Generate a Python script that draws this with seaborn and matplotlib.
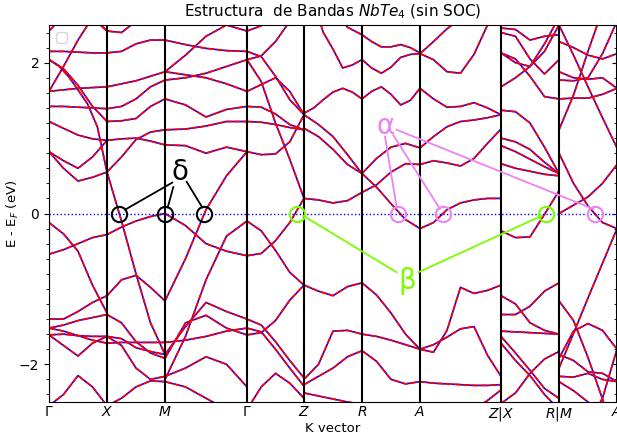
import numpy as np
import pandas as pd
import matplotlib
matplotlib.use("Agg")
import matplotlib.pyplot as plt
from matplotlib.ticker import MultipleLocator
import seaborn as sns

# ---------------- data ----------------
# k-path positions of the high-symmetry points (path length units)
k_points = [0, 58, 116, 198, 255, 313, 371, 452, 510, 568]
k_labels = [r'$\Gamma$', r'$X$', r'$M$', r'$\Gamma$', r'$Z$', r'$R$', r'$A$', r'$Z|X$', r'$R|M$', r'$A$']

# band energies (eV) sampled evenly along each path segment
seg_GX = [
    [2.42, 2.62, 2.75, 2.6, 2.42],
    [2.15, 2.15, 2.14, 2.13, 2.13],
    [2.04, 1.96, 1.82, 1.64, 1.45, 1.15, 0.55],
    [2.04, 1.92, 1.7, 1.42, 1.22],
    [1.62, 1.95, 2.3, 2.6, 2.42],
    [1.62, 1.64, 1.66, 1.67, 1.68],
    [1.42, 1.42, 1.41, 1.40, 1.39],
    [1.22, 1.13, 1.04, 0.99, 0.97],
    [0.82, 0.6, 0.43, 0.48, 0.55],
    [0.82, 0.7, 0.6, 0.75, 0.97],
    [-0.12, -0.27, -0.5, -0.95, -1.32],
    [-0.54, -0.48, -0.40, -0.32, -0.28],
    [-1.40, -1.40, -1.3, -1.18, -1.09],
    [-1.52, -1.48, -1.42, -1.38, -1.34],
    [-1.61, -1.60, -1.62, -1.63, -1.63],
    [-1.61, -1.75, -1.89, -1.72, -1.63],
    [-1.52, -1.56, -1.62, -1.68, -1.72],
    [-2.55, -2.4, -2.15, -2.3, -2.55],
]
seg_XM = [
    [2.42, 2.40, 2.55, 2.75, 2.9],
    [2.13, 2.15, 2.25, 2.30, 2.30],
    [1.68, 1.72, 1.76, 1.82, 1.88],
    [1.39, 1.42, 1.52, 1.68, 1.77],
    [1.22, 1.23, 1.26, 1.42, 1.52],
    [0.97, 0.99, 1.0, 0.96, 0.91],
    [0.55, 0.75, 0.98, 1.08, 1.11],
    [0.55, -0.1, -0.8, -1.45, -1.87],
    [-0.28, -0.18, -0.10, -0.04, 0.0],
    [-1.09, -0.88, -0.82, -0.98, -1.16],
    [-1.34, -1.45, -1.7, -1.85, -1.92],
    [-1.72, -1.71, -1.71, -1.71, -1.71],
    [-1.63, -1.75, -2.05, -2.2, -2.16],
    [-1.63, -1.66, -1.78, -1.83, -1.87],
    [-2.55, -2.45, -2.3, -2.22, -2.23],
]
seg_MG = [
    [2.30, 2.24, 2.19, 2.16, 2.15],
    [1.88, 2.1, 2.35, 2.5, 2.42],
    [1.77, 1.80, 1.86, 1.95, 2.04],
    [1.88, 1.84, 1.80, 1.72, 1.62],
    [1.52, 1.44, 1.28, 1.38, 1.42],
    [1.11, 1.12, 1.16, 1.22, 1.22],
    [0.91, 0.90, 0.80, 0.88, 0.82],
    [-1.16, -0.6, 0.05, 0.5, 0.82],
    [0.0, -0.16, -0.40, -0.50, -0.56],
    [-2.2, -1.63, -0.88, -0.3, -0.10],
    [-1.71, -1.68, -1.63, -1.56, -1.52],
    [-1.87, -1.5, -1.18, -1.3, -1.40],
    [-1.92, -1.45, -1.35, -1.52, -1.61],
    [-2.16, -2.05, -1.9, -2.0, -2.3],
    [-2.23, -2.3, -2.45, -2.6, -2.7],
]
seg_GZ = [
    [2.42, 2.49, 2.65, 2.85, 3.0],
    [2.15, 2.08, 1.82, 1.51, 1.31],
    [2.04, 2.09, 2.28, 2.55, 2.8],
    [2.04, 1.75, 1.2, 0.72, 0.2],
    [1.62, 1.71, 1.8, 1.62, 1.31],
    [1.42, 1.41, 1.32, 1.18, 1.11],
    [1.22, 1.21, 1.18, 1.14, 1.11],
    [0.82, 0.78, 0.79, 0.95, 1.31],
    [-0.10, -0.23, -0.49, -0.78, -0.95],
    [-0.56, -0.53, -0.36, -0.12, 0.2],
    [-1.40, -1.48, -1.7, -1.95, -2.18],
    [-1.52, -1.57, -1.8, -2.05, -2.29],
    [-1.61, -1.58, -1.42, -1.15, -0.95],
    [-2.6, -2.3, -2.12, -2.25, -2.45],
]
seg_ZR = [
    [3.2, 2.8, 2.4, 2.18, 1.93, 1.97, 2.04],
    [3.2, 3.0, 2.7, 2.47, 2.37],
    [1.33, 1.4, 1.51, 1.61, 1.66, 1.61, 1.52],
    [1.31, 1.18, 1.02, 0.78, 0.53],
    [1.13, 1.02, 0.85, 0.65, 0.53],
    [0.2, 0.18, 0.14, 0.17, 0.28],
    [-0.95, -1.03, -1.09, -0.97, -0.92],
    [-2.2, -2.0, -1.56, -1.55, -1.6],
    [-2.27, -2.16, -2.05, -1.9, -1.82],
    [-2.38, -2.42, -2.46, -2.5, -2.53],
]
seg_RA = [
    [2.37, 2.28, 2.21, 2.21, 2.24, 2.2, 2.13],
    [2.04, 1.93, 1.86, 1.94, 2.07, 2.11, 2.12],
    [1.52, 1.62, 1.68, 1.58, 1.44, 1.5, 1.66],
    [0.53, 0.73, 0.88, 0.93, 0.87],
    [0.28, 0.38, 0.55, 0.66, 0.65],
    [0.53, 0.35, 0.13, -0.08, -0.2],
    [-0.92, -1.08, -1.32, -1.6, -1.8],
    [-1.6, -1.63, -1.68, -1.74, -1.8],
    [-1.82, -1.96, -2.2, -2.26, -2.23],
]
seg_AZ = [
    [2.12, 2.28, 2.45, 2.58, 2.7, 2.85, 3.0],
    [2.12, 2.04, 1.88, 1.86, 2.11, 2.5, 2.9],
    [1.66, 1.52, 1.41, 1.42, 1.47, 1.40, 1.31],
    [0.87, 1.02, 1.15, 1.22, 1.24, 1.27, 1.31],
    [0.65, 0.70, 0.67, 0.63, 0.73, 0.93, 1.12],
    [-0.2, -0.12, 0.05, 0.14, 0.18, 0.2, 0.2],
    [-1.8, -1.84, -1.55, -0.98, -1.06, -1.02, -0.95],
    [-1.8, -1.74, -1.64, -1.53, -1.5, -1.88, -2.16],
    [-2.23, -2.25, -2.26, -2.27, -2.28, -2.28, -2.27],
    [-3.0, -2.9, -2.8, -2.7, -2.6, -2.48, -2.34],
]
seg_XR = [
    [2.46, 2.44, 2.3, 2.35, 2.37],
    [2.40, 2.35, 2.05, 1.85, 2.04],
    [2.13, 2.0, 1.95, 2.15, 2.5],
    [1.68, 1.80, 1.95, 2.25, 2.6],
    [2.13, 2.05, 1.82, 1.55, 1.52],
    [1.37, 1.35, 1.2, 0.88, 0.53],
    [1.0, 0.95, 0.85, 0.68, 0.53],
    [0.9, 0.82, 0.72, 0.62, 0.53],
    [0.66, 0.6, 0.56, 0.52, 0.5],
    [-0.23, -0.32, -0.31, -0.01, 0.3],
    [-1.09, -1.2, -1.45, -1.55, -1.6],
    [-1.34, -1.34, -1.23, -1.03, -0.92],
    [-1.56, -1.57, -1.58, -1.59, -1.6],
    [-1.63, -1.85, -2.08, -2.32, -2.45],
    [-1.72, -1.95, -2.15, -2.4, -2.6],
    [-2.52, -2.38, -2.12, -1.93, -1.83],
]
seg_MA = [
    [2.28, 2.2, 2.1, 2.05, 2.12],
    [2.5, 2.1, 1.68, 1.27, 0.87],
    [1.88, 1.8, 1.78, 1.8, 1.66],
    [1.77, 1.76, 1.8, 2.12, 2.55],
    [1.52, 1.53, 1.53, 1.58, 1.66],
    [1.11, 1.57, 2.15, 2.7, 3.2],
    [0.8, 0.4, 0.1, -0.12, -0.2],
    [0.0, 0.11, 0.22, 0.4, 0.65],
    [-2.05, -1.59, -1.12, -0.66, -0.2],
    [-1.16, -1.42, -1.91, -2.46, -3.0],
    [-1.92, -1.56, -1.46, -1.55, -1.8],
    [-1.87, -1.95, -2.1, -2.12, -2.23],
    [-2.16, -2.17, -2.12, -2.2, -2.23],
    [-2.23, -2.35, -2.5, -2.65, -2.8],
    [-3.2, -3.0, -2.8, -2.45, -1.8],
]
segments = [seg_GX, seg_XM, seg_MG, seg_GZ, seg_ZR, seg_RA, seg_AZ, seg_XR, seg_MA]

# annotation markers (crossings at the Fermi level)
delta_k = [70, 116, 155]
alpha_k = [349, 394, 546]
beta_k = [248, 497]

# ---------------- build table ----------------
rows = []
uid = 0
for i, seg in enumerate(segments):
    k0, k1 = k_points[i], k_points[i + 1]
    for band in seg:
        ks = np.linspace(k0, k1, len(band))
        for kk, ee in zip(ks, band):
            rows.append((uid, kk, ee))
        uid += 1
df = pd.DataFrame(rows, columns=["band", "k", "E"])

# ---------------- plot ----------------
fig = plt.figure(figsize=(6.17, 4.37), dpi=100)
ax = fig.add_axes([49 / 617, 1 - 402 / 437, (617 - 49) / 617, 377 / 437])

sns.lineplot(data=df, x="k", y="E", units="band", estimator=None, sort=False,
             color="blue", lw=1.2, ax=ax)
sns.lineplot(data=df, x="k", y="E", units="band", estimator=None, sort=False,
             color="red", lw=1.2, ax=ax, linestyle=(0, (4, 1.2)))

for kp in k_points:
    ax.axvline(kp, color="black", lw=1.5, zorder=3)
ax.axhline(0, color="blue", ls=":", lw=1.0, zorder=3)

ax.set_xlim(k_points[0], k_points[-1])
ax.set_ylim(-2.5, 2.5)
ax.set_xticks(k_points)
ax.set_xticklabels(k_labels, fontsize=10)
ax.yaxis.set_major_locator(MultipleLocator(2))
ax.yaxis.set_minor_locator(MultipleLocator(0.2))
ax.tick_params(axis="y", labelsize=10)
ax.tick_params(axis="x", length=0, pad=2)

sec = ax.secondary_yaxis("right")
sec.yaxis.set_major_locator(MultipleLocator(2))
sec.yaxis.set_minor_locator(MultipleLocator(0.2))
sec.tick_params(which="both", direction="in", labelright=False)

ax.set_xlabel("K vector", fontsize=9.5)
ax.set_ylabel(r"E - E$_F$ (eV)", fontsize=9.5)
ax.xaxis.set_label_coords(0.5, -0.052)
ax.yaxis.set_label_coords(-0.05, 0.5)
ax.set_title(r"Estructura  de Bandas $NbTe_4$ (sin SOC)", fontsize=11)

# annotations
ax.plot(delta_k, [0] * len(delta_k), "o", mfc="none", mec="black", ms=11, mew=1.5, zorder=5)
ax.plot(alpha_k, [0] * len(alpha_k), "o", mfc="none", mec="violet", ms=11, mew=1.5, zorder=5)
ax.plot(beta_k, [0] * len(beta_k), "o", mfc="none", mec="lawngreen", ms=11, mew=1.5, zorder=5)

ax.text(131, 0.55, "δ", fontsize=20, color="black", ha="center", va="center", zorder=6)
ax.text(337, 1.16, "α", fontsize=20, color="violet", ha="center", va="center", zorder=6)
ax.text(358, -0.89, "β", fontsize=20, color="lawngreen", ha="center", va="center", zorder=6)

delta_lines = [((123.3, 0.41), (76, 0.05)), ((124.3, 0.35), (118.7, 0.08)), ((137.7, 0.42), (153.3, 0.08))]
alpha_lines = [((336, 1.02), (347.7, 0.08)), ((344.3, 1.04), (391, 0.06)), ((347.7, 1.11), (544.3, 0.06))]
beta_lines = [((254.3, -0.03), (347.7, -0.78)), ((369.3, -0.78), (492.7, -0.03))]
for (a, b) in delta_lines:
    ax.plot([a[0], b[0]], [a[1], b[1]], color="black", lw=1.3, zorder=5)
for (a, b) in alpha_lines:
    ax.plot([a[0], b[0]], [a[1], b[1]], color="violet", lw=1.3, zorder=5)
for (a, b) in beta_lines:
    ax.plot([a[0], b[0]], [a[1], b[1]], color="lawngreen", lw=1.3, zorder=5)

ax.legend(handles=[], loc="upper left")

fig.savefig("out.png", dpi=100)
